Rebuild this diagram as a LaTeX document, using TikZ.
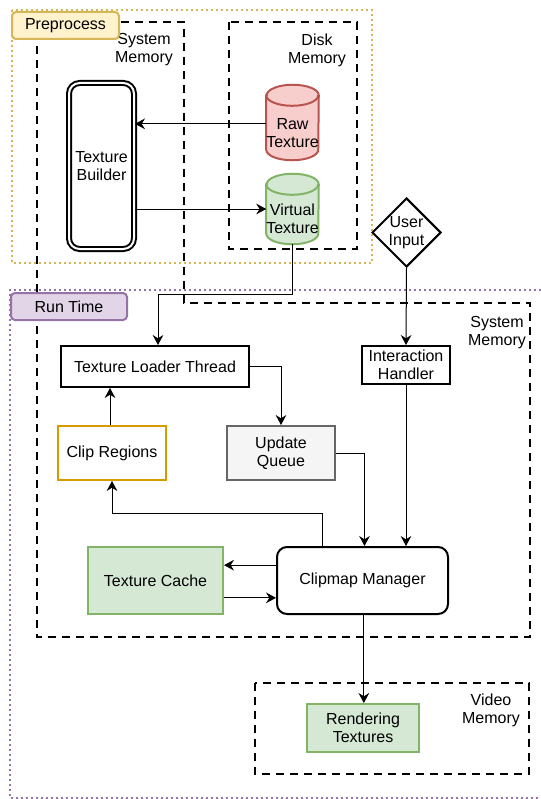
\documentclass[tikz,border=0pt]{standalone}
\usepackage{fontspec}
\setmainfont{Liberation Sans}
\usetikzlibrary{shapes.geometric,arrows.meta}

\definecolor{redfill}{HTML}{F8CECC}
\definecolor{redline}{HTML}{B85450}
\definecolor{greenfill}{HTML}{D5E8D4}
\definecolor{greenline}{HTML}{82B366}
\definecolor{yellowfill}{HTML}{FFF2CC}
\definecolor{yellowline}{HTML}{D6B656}
\definecolor{purplefill}{HTML}{E1D5E7}
\definecolor{purpleline}{HTML}{9673A6}
\definecolor{orangeline}{HTML}{D79B00}
\definecolor{greyfill}{HTML}{F5F5F5}
\definecolor{greyline}{HTML}{666666}

\begin{document}
\begin{tikzpicture}[x=0.75pt,y=-0.75pt,
  every node/.style={font=\fontsize{12}{13.5}\selectfont,align=center},
  box/.style={rectangle,draw,line width=1.5pt,inner sep=0pt},
  mem/.style={line width=1.5pt,dash pattern=on 6pt off 4.5pt},
  stage/.style={line width=1.5pt,dash pattern=on 1.5pt off 2.25pt},
  tag/.style={box,rounded corners=3pt,minimum height=20.25pt},
  cylspot/.style={rectangle,inner sep=0pt,minimum width=39pt},
  cyl/.style={line width=1.5pt},
  lid/.style={x radius=19.5pt,y radius=7.9pt},
  arr/.style={-{Stealth[length=7.5pt,width=8pt,inset=2.5pt]},line width=0.75pt}]
\useasboundingbox (0,0) rectangle (540,799);

% stages
\draw[stage,yellowline] (12,10) rectangle (372,263);
\draw[stage,purpleline] (541,290) -- (10,290) -- (10,798) -- (541,798);

% memory regions
\draw[mem] (37,22) -- (184,22) -- (184,303) -- (530,303) -- (530,637) -- (37,637) -- cycle;
\draw[mem] (229,22) rectangle (357,249);
\draw[mem] (255,683) rectangle (529,774);
\node (SM1) at (144,50) {System\\Memory};
\node (DM) at (317,50) {Disk\\Memory};
\node (SM2) at (497,333) {System\\Memory};
\node (VM) at (491,710) {Video\\Memory};

\node (PP)[tag,fill=yellowfill,draw=yellowline,minimum width=80.25pt] at (65.5,25.5) {Preprocess};
\node (RT)[tag,fill=purplefill,draw=purpleline,minimum width=87pt] at (69,306.5) {Run Time};

% preprocess
\node (TB)[box,rounded corners=8pt,double,double distance=1.5pt,minimum width=48.75pt,minimum height=124.5pt] at (101.5,166) {Texture\\Builder};

\node (RawT)[cylspot,minimum height=56.25pt] at (292.5,122.5) {};
\draw[cyl,fill=redfill,draw=redline] ([yshift=-7.9pt]RawT.north west) -- ([yshift=7.9pt]RawT.south west)
  arc[start angle=180,end angle=360,lid] -- ([yshift=-7.9pt]RawT.north east)
  arc[start angle=0,end angle=180,lid] -- cycle;
\draw[cyl,draw=redline] ([yshift=-7.9pt]RawT.north west) arc[start angle=180,end angle=360,lid];
\node (RawTx) at (292.5,133) {Raw\\Texture};

\node (VirT)[cylspot,minimum height=52.5pt] at (292.5,209) {};
\draw[cyl,fill=greenfill,draw=greenline] ([yshift=-7.9pt]VirT.north west) -- ([yshift=7.9pt]VirT.south west)
  arc[start angle=180,end angle=360,lid] -- ([yshift=-7.9pt]VirT.north east)
  arc[start angle=0,end angle=180,lid] -- cycle;
\draw[cyl,draw=greenline] ([yshift=-7.9pt]VirT.north west) arc[start angle=180,end angle=360,lid];
\node (VirTx) at (292.5,219) {Virtual\\Texture};

\node (UI)[diamond,draw,line width=1.5pt,inner sep=0pt,minimum width=51.75pt,minimum height=51.75pt] at (406.5,232.5) {};
\node (UIt) at (UI) {User\\Input};

% run time
\node (TLT)[box,minimum width=141pt,minimum height=30.75pt] at (155,366.5) {Texture Loader Thread};
\node (IH)[box,minimum width=66pt,minimum height=28.5pt] at (406,365) {Interaction\\Handler};
\node (CR)[box,draw=orangeline,minimum width=81pt,minimum height=40.5pt] at (112,453) {Clip Regions};
\node (UQ)[box,fill=greyfill,draw=greyline,minimum width=81pt,minimum height=40.5pt] at (281,453) {Update\\Queue};
\node (TC)[box,fill=greenfill,draw=greenline,minimum width=101.25pt,minimum height=50.25pt] at (155.5,580.5) {Texture Cache};
\node (CM)[box,rounded corners=7.5pt,minimum width=128.25pt,minimum height=50.25pt] at (362.5,580.5) {Clipmap Manager};
\node (RendT)[box,fill=greenfill,draw=greenline,minimum width=84pt,minimum height=36pt] at (363,728) {Rendering\\Textures};

\draw[arr] ([yshift=-1pt]RawT.west) -- ([yshift=-1pt]RawT.west -| TB.east);
\draw[arr] (VirT.west -| TB.east) -- (VirT.west);
\draw[arr] (VirT.south) -- ++(0,50) -| ([xshift=2.25pt]TLT.north);
\draw[arr] (UI.south) -- (IH.north);
\draw[arr] (TLT.east) -| (UQ.north);
\draw[arr] ([xshift=-1.5pt]CR.north) -- ([xshift=-1.5pt]CR.north |- TLT.south);
\draw[arr] (UQ.east) -| ([xshift=1.5pt]CM.north);
\draw[arr] (IH.south) -- (IH.south |- CM.north);
\draw[arr] ([xshift=-30pt]CM.north) -- ++(0,-33) -| (CR.south);
\draw[arr] ([yshift=11.5pt]CM.west) -- ([yshift=11.5pt]CM.west -| TC.east);
\draw[arr] ([yshift=-13pt]TC.east) -- ([yshift=-13pt]TC.east -| CM.west);
\draw[arr] ([xshift=1pt]CM.south) -- ([xshift=1pt]CM.south |- RendT.north);
\end{tikzpicture}
\end{document}
